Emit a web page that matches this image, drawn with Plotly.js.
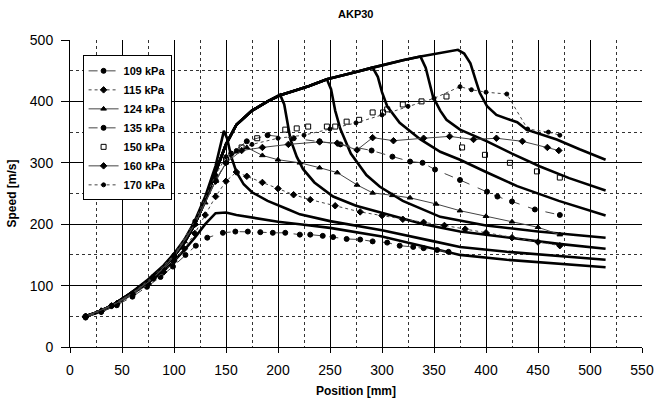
<!DOCTYPE html>
<html>
<head>
<meta charset="utf-8">
<script src="https://cdn.plot.ly/plotly-3.0.1.min.js"></script>
<style>html,body{margin:0;padding:0;background:#fff;}#chart{width:665px;height:402px;}</style>
</head>
<body>
<div id="chart"></div>
<script>
// ---- Measured data (markers) ----
var p109X = [15,30,45,60,74,87,99,111,121,132,147,159,171,183,195,207,221,231,243,253,266,279,291,305,317,330,340,353,364];
var p109Y = [48,57,68,82,98,114,131,150,165,178,186,188,188,187,186,186,183,183,181,179,176,175,172,170,165,163,161,158,155];

var p115X = [15,30,45,60,75,90,100,110,120,130,140,150,160,170,185,200,215,231,255,279,300,320,340,360,380,400,425,450,471];
var p115Y = [49,58,70,85,102,122,140,160,185,215,245,270,285,278,268,258,248,240,230,220,214,208,203,198,192,186,178,171,165];

var p124X = [15,30,45,60,75,90,100,110,120,130,140,150,160,170,185,200,221,240,257,276,291,310,327,352,375,400,425,450,471];
var p124Y = [50,60,72,88,106,128,148,172,200,235,270,300,318,325,312,305,300,292,284,264,251,247,243,233,222,213,204,195,183];

var p135X = [15,40,60,80,100,120,140,155,170,190,215,240,260,290,310,327,339,351,375,401,411,425,447,471];
var p135Y = [50,67,86,112,147,200,272,315,335,345,340,335,330,320,310,302,300,289,272,253,245,237,224,215];

var p150X = [150,165,180,207,218,229,247,255,266,278,291,301,305,320,338,362,377,399,423,449,471];
var p150Y = [305,325,340,354,356,359,359,359,367,370,382,382,387,395,400,408,325,313,300,286,276];

var p160X = [15,40,60,80,100,120,140,150,165,185,210,240,257,276,291,311,340,365,388,410,435,459,470];
var p160Y = [50,67,86,112,148,200,270,300,320,325,330,334,332,321,341,336,340,343,338,340,335,325,320];

var p170X = [15,40,60,80,100,120,140,150,160,175,200,225,250,275,300,325,350,375,386,400,420,440,460,471];
var p170Y = [50,68,88,115,150,205,280,310,320,330,340,345,355,365,378,392,405,424,419,415,412,355,350,345];

// ---- Simulation curves (thick lines) ----
var simGX = [15,25,40,50,60,75,90,100,110,120,130,140,150,160,180,200,221,250,300,350,375,420,470,515];
var simGY = [50,55,66,76,87,104,124,140,158,178,200,218,219,215,209,204,200,194,180,160,150,142,136,130];

var simAX = [15,25,40,50,60,75,90,100,110,120,130,140,145,148,151,155,160,167,175,190,210,221,250,300,350,375,420,470,515];
var simAY = [50,56,67,78,90,110,133,152,175,205,245,295,330,352,340,310,285,265,252,238,224,216,205,190,172,163,155,148,142];

var simBX = [15,25,40,50,60,75,90,100,110,120,130,140,150,160,175,190,202,206,212,218,224,235,253,275,301,340,375,420,470,515];
var simBY = [50,56,67,78,89,108,130,148,170,200,238,285,330,362,385,400,411,395,338,310,290,268,245,230,218,200,188,178,168,160];

var simCX = [15,25,40,50,60,75,90,100,110,120,130,140,150,160,175,190,202,215,230,247,251,255,260,270,285,298,320,356,400,450,515];
var simCY = [50,56,67,78,89,108,130,148,170,200,238,285,330,362,385,400,410,417,425,436,420,385,355,315,280,261,238,212,198,188,178];

var simDX = [15,25,40,50,60,75,90,100,110,120,130,140,150,160,175,190,202,215,230,247,260,275,291,296,300,305,317,337,356,375,400,430,470,515];
var simDY = [50,56,67,78,89,108,130,148,170,200,238,285,330,362,385,400,410,417,425,436,442,448,455,440,415,392,365,338,318,305,285,262,238,214];

var simEX = [15,25,40,50,60,75,90,100,110,120,130,140,150,160,175,190,202,215,230,247,260,275,291,305,320,337,342,349,356,362,375,401,425,452,480,515];
var simEY = [50,56,67,78,89,108,130,148,170,200,238,285,330,362,385,400,410,417,425,436,442,448,455,461,467,473,455,408,385,370,354,335,315,294,275,255];

var simFX = [15,25,40,50,60,75,90,100,110,120,130,140,150,160,175,190,202,215,230,247,260,275,291,305,320,337,355,373,379,385,390,394,401,410,423,430,439,455,468,490,515];
var simFY = [50,56,67,78,89,108,130,148,170,200,238,285,330,362,385,400,410,417,425,436,442,448,455,461,467,473,478,484,478,462,435,414,392,378,370,366,354,345,338,322,305];

var seriesNames = ['109 kPa','115 kPa','124 kPa','135 kPa','150 kPa','160 kPa','170 kPa'];

var FONT = 'Liberation Sans, Arial, sans-serif';
var traces = [];
function sim(x, y) {
  traces.push({x: x, y: y, mode: 'lines', showlegend: false, hoverinfo: 'skip',
    line: {color: '#000', width: 2.6}});
}
sim(simGX, simGY); sim(simAX, simAY); sim(simBX, simBY); sim(simCX, simCY);
sim(simDX, simDY); sim(simEX, simEY); sim(simFX, simFY);

function data(x, y, name, mode, sym, size, dash) {
  traces.push({x: x, y: y, name: name, mode: mode,
    marker: {symbol: sym, size: size, color: '#000', line: {color: '#000', width: 1}},
    line: {color: '#444', width: 1, dash: dash}});
}
data(p109X, p109Y, seriesNames[0], 'lines+markers', 'circle', 5, 'dash');
data(p115X, p115Y, seriesNames[1], 'lines+markers', 'diamond', 5, 'dot');
data(p124X, p124Y, seriesNames[2], 'lines+markers', 'triangle-up', 5, 'solid');
data(p135X, p135Y, seriesNames[3], 'lines+markers', 'circle', 5, 'dash');
data(p150X, p150Y, seriesNames[4], 'markers', 'square-open', 5, 'solid');
data(p160X, p160Y, seriesNames[5], 'lines+markers', 'diamond', 5, 'solid');
data(p170X, p170Y, seriesNames[6], 'lines+markers', 'circle', 4, 'dot');

var layout = {
  width: 665, height: 402,
  margin: {l: 70, r: 23, t: 40, b: 55},
  paper_bgcolor: '#fff', plot_bgcolor: '#fff',
  font: {family: FONT, color: '#000', size: 12},
  title: {text: 'AKP30', x: 0.535, xanchor: 'center', y: 0.965, yanchor: 'middle',
    font: {family: FONT, size: 11, weight: 'bold', color: '#000'}},
  xaxis: {
    range: [0, 550], dtick: 50, tick0: 0,
    showline: true, linecolor: '#000', linewidth: 1,
    ticks: 'outside', ticklen: 5, tickcolor: '#000', ticklabelstandoff: 5,
    showgrid: true, gridcolor: '#000', gridwidth: 1,
    zeroline: false,
    minor: {dtick: 25, showgrid: true, gridcolor: '#333', griddash: 'dot', gridwidth: 1},
    tickfont: {family: FONT, size: 14, color: '#000'},
    title: {text: 'Position [mm]', standoff: 9, font: {family: FONT, size: 12, weight: 'bold', color: '#000'}}
  },
  yaxis: {
    range: [0, 500], dtick: 100, tick0: 0,
    showline: true, linecolor: '#000', linewidth: 1,
    ticks: 'outside', ticklen: 8, tickcolor: '#000', ticklabelstandoff: 5,
    showgrid: true, gridcolor: '#000', gridwidth: 1,
    zeroline: false,
    minor: {dtick: 50, showgrid: true, gridcolor: '#333', griddash: 'dot', gridwidth: 1},
    tickfont: {family: FONT, size: 14, color: '#000'},
    title: {text: 'Speed [m/s]', standoff: 10, font: {family: FONT, size: 12, weight: 'bold', color: '#000'}}
  },
  legend: {
    x: 0.022, y: 0.95, xanchor: 'left', yanchor: 'top',
    bgcolor: '#fff', bordercolor: '#000', borderwidth: 1,
    font: {family: FONT, size: 11, weight: 'bold', color: '#000'},
    tracegroupgap: 0, itemwidth: 30
  }
};

Plotly.newPlot('chart', traces, layout, {staticPlot: true, displayModeBar: false});
</script>
</body>
</html>
